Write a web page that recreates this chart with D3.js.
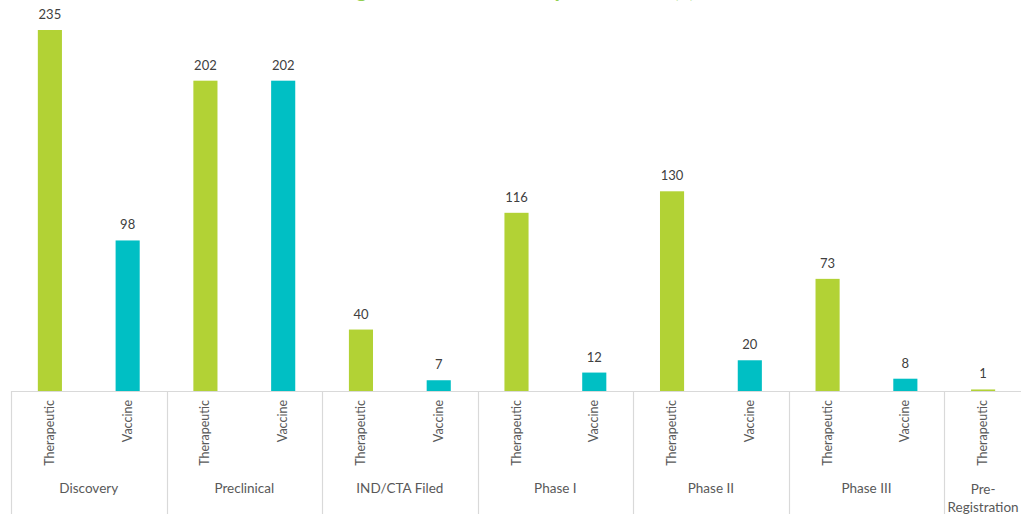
<!DOCTYPE html>
<html>
<head>
<meta charset="utf-8">
<script src="https://cdn.jsdelivr.net/npm/d3@7"></script>
<style>
  html, body { margin: 0; padding: 0; background: #fff; }
  svg { display: block; }
  text { font-family: Lato, "Open Sans", sans-serif; }
</style>
</head>
<body>
<div id="chart"></div>
<script>
// ---- data ----
const titleText = "Drug Candidates in Development Phase (n)";
const phases = ["Discovery", "Preclinical", "IND/CTA Filed", "Phase I", "Phase II", "Phase III", "Pre-Registration"];
const types = ["Therapeutic", "Vaccine"];
const therapeutic = [235, 202, 40, 116, 130, 73, 1];
const vaccine = [98, 202, 7, 12, 20, 8, null];

(function () {
const W = 1021, H = 514;
const colors = { Therapeutic: "#B2D235", Vaccine: "#00BFC4" };

// build slots
const slots = [];
phases.forEach((p, i) => {
  const vals = [therapeutic[i], vaccine[i]];
  types.forEach((t, j) => {
    if (vals[j] !== null && vals[j] !== undefined) {
      slots.push({ key: p + "|" + t, phase: p, type: t, value: vals[j] });
    }
  });
});

const svg = d3.select("#chart").append("svg").attr("width", W).attr("height", H);

const plotLeft = 11, plotRight = 1022, base = 391, plotTop = 30;
const x = d3.scaleBand().domain(slots.map(d => d.key)).range([plotLeft, plotRight])
  .paddingInner(0.69).paddingOuter(0.345);
const y = d3.scaleLinear().domain([0, d3.max(slots, d => d.value)]).range([base, plotTop]);

// title (partially cut off at top, like the reference)
svg.append("text")
  .attr("x", 322).attr("y", -3)
  .attr("textLength", 373).attr("lengthAdjust", "spacing")
  .attr("font-size", 22).attr("font-weight", "bold")
  .attr("fill", "#92D050")
  .text(titleText);

// bars
svg.append("g").selectAll("rect").data(slots).join("rect")
  .attr("x", d => x(d.key))
  .attr("y", d => y(d.value))
  .attr("width", x.bandwidth())
  .attr("height", d => base - y(d.value))
  .attr("fill", d => colors[d.type]);

// value labels
svg.append("g").selectAll("text").data(slots).join("text")
  .attr("x", d => x(d.key) + x.bandwidth() / 2)
  .attr("y", d => y(d.value) - 11)
  .attr("text-anchor", "middle")
  .attr("font-size", 13)
  .attr("fill", "#404040")
  .text(d => d.value);

// axis line
const axisColor = "#D9D9D9";
svg.append("line")
  .attr("x1", plotLeft).attr("x2", W).attr("y1", base + 0.5).attr("y2", base + 0.5)
  .attr("stroke", axisColor).attr("stroke-width", 1.2);

// group separators
const step = x.step();
const groups = [];
phases.forEach(p => {
  const ks = slots.filter(s => s.phase === p);
  const start = x(ks[0].key) - x.paddingInner() * step / 2;
  const end = start + ks.length * step;
  groups.push({ phase: p, start, end });
});
const sepXs = groups.map(g => g.start).concat([groups[groups.length - 1].end]);
svg.append("g").selectAll("line").data(sepXs).join("line")
  .attr("x1", d => Math.round(d) + 0.5).attr("x2", d => Math.round(d) + 0.5)
  .attr("y1", base).attr("y2", H)
  .attr("stroke", axisColor).attr("stroke-width", 1.2);

// rotated type labels
svg.append("g").selectAll("text").data(slots).join("text")
  .attr("transform", d => `translate(${x(d.key) + x.bandwidth() / 2 + 4},400) rotate(-90)`)
  .attr("text-anchor", "end")
  .attr("font-size", 12.5)
  .attr("fill", "#595959")
  .text(d => d.type);

// phase labels
const gl = svg.append("g").selectAll("text").data(groups).join("text")
  .attr("x", d => (d.start + d.end) / 2)
  .attr("y", 493)
  .attr("text-anchor", "middle")
  .attr("font-size", 13.5)
  .attr("fill", "#595959");
gl.each(function (d) {
  const el = d3.select(this);
  const width = d.end - d.start;
  // wrap at hyphen if label too wide for its group
  const parts = d.phase.length * 7 > width ? d.phase.split(/(?<=-)/) : [d.phase];
  if (parts.length === 1) { el.text(d.phase); return; }
  el.attr("y", 494);
  parts.forEach((t, i) => {
    el.append("tspan").attr("x", (d.start + d.end) / 2).attr("dy", i === 0 ? 0 : 17.5).text(t);
  });
});
})();
</script>
</body>
</html>
